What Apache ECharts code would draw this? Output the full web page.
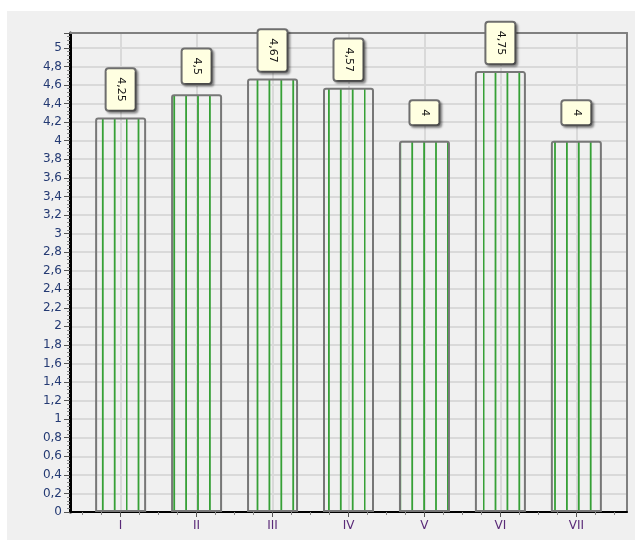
<!DOCTYPE html>
<html>
<head>
<meta charset="utf-8">
<script src="https://cdn.jsdelivr.net/npm/echarts@6/dist/echarts.min.js"></script>
<style>
html, body {
  margin: 0;
  padding: 0;
  width: 635px;
  height: 540px;
  background: #fff;
  overflow: hidden;
}
#chart {
  position: absolute;
  left: 7px;
  top: 11px;
  width: 628px;
  height: 529px;
  background: #f0f0f0;
}
</style>
</head>
<body>
<div id="chart"></div>
<script>
// data
const categories = ['I', 'II', 'III', 'IV', 'V', 'VI', 'VII']
const values = [4.25, 4.5, 4.67, 4.57, 4, 4.75, 4]
const yMin = 0
const yMax = 5.16
const yStep = 0.2

const comma = v => String(Math.round(v * 100) / 100).replace('.', ',')

// green vertical stripes used as bar fill
const stripe = document.createElement('canvas')
stripe.width = 119
stripe.height = 8
const sctx = stripe.getContext('2d')
sctx.fillStyle = '#36a036'
for (let k = 0; k < 10; k++) {
  sctx.fillRect(0.5 + k * 11.9 - 0.8, 0, 1.8, 8)
}

const centers = categories.map((c, i) => i + 1)
const quarterTicks = []
for (let q = 2; q <= categories.length * 4 + 2; q++) {
  if (q % 4 !== 0) quarterTicks.push(q / 4)
}
const xMin = 1 / 3
const xMax = categories.length + 2 / 3

const chart = echarts.init(document.getElementById('chart'))
chart.setOption({
  animation: false,
  grid: { left: 63, top: 22, right: 8, bottom: 28 },
  xAxis: [
    {
      type: 'value',
      min: xMin,
      max: xMax,
      axisLine: { show: true, onZero: false, lineStyle: { color: '#000', width: 2 } },
      axisTick: { show: true, customValues: centers, length: 5, lineStyle: { color: '#555' } },
      axisLabel: {
        customValues: centers,
        formatter: v => categories[Math.round(v) - 1],
        color: '#5a2a78',
        fontFamily: 'DejaVu Sans',
        fontSize: 12,
        margin: 8
      },
      splitLine: { show: true, lineStyle: { color: '#d9d9d9', width: 2 } }
    },
    {
      type: 'value',
      min: xMin,
      max: xMax,
      position: 'bottom',
      axisLine: { show: false },
      axisTick: { show: true, customValues: quarterTicks, length: 3, lineStyle: { color: '#888' } },
      axisLabel: { show: false },
      splitLine: { show: false }
    },
    {
      type: 'value',
      min: xMin,
      max: xMax,
      position: 'top',
      axisLine: { show: true, onZero: false, lineStyle: { color: '#808080', width: 2 } },
      axisTick: { show: false },
      axisLabel: { show: false },
      splitLine: { show: false }
    }
  ],
  yAxis: [
    {
      type: 'value',
      min: yMin,
      max: yMax,
      interval: yStep,
      axisLine: { show: true, onZero: false, lineStyle: { color: '#000', width: 3 } },
      axisTick: { show: true, length: 6, lineStyle: { color: '#555' } },
      minorTick: { show: true, splitNumber: 5, length: 3, lineStyle: { color: '#888' } },
      axisLabel: {
        formatter: comma,
        showMaxLabel: false,
        color: '#243a73',
        fontFamily: 'DejaVu Sans',
        fontSize: 12,
        margin: 8
      },
      splitLine: { show: true, lineStyle: { color: '#d9d9d9', width: 2 } }
    },
    {
      type: 'value',
      min: yMin,
      max: yMax,
      position: 'right',
      axisLine: { show: true, onZero: false, lineStyle: { color: '#808080', width: 2 } },
      axisTick: { show: false },
      axisLabel: { show: false },
      splitLine: { show: false }
    }
  ],
  series: [
    {
      type: 'bar',
      xAxisIndex: 0,
      yAxisIndex: 0,
      barWidth: 51,
      data: values.map((v, i) => [i + 1, v]),
      itemStyle: {
        color: { image: stripe, repeat: 'repeat' },
        borderColor: '#777',
        borderWidth: 2,
        borderRadius: [2, 2, 0, 0]
      },
      label: {
        show: true,
        position: ['50%', -28],
        align: 'center',
        verticalAlign: 'middle',
        rotate: -90,
        formatter: p => comma(p.value[1]),
        color: '#111',
        fontFamily: 'DejaVu Sans',
        fontSize: 11,
        lineHeight: 12,
        padding: [8, 8],
        backgroundColor: '#ffffe1',
        borderColor: '#6e6e6e',
        borderWidth: 2,
        borderRadius: 2,
        shadowColor: 'rgba(0,0,0,0.35)',
        shadowBlur: 2,
        shadowOffsetX: 2,
        shadowOffsetY: 2
      }
    }
  ]
})
</script>
</body>
</html>
